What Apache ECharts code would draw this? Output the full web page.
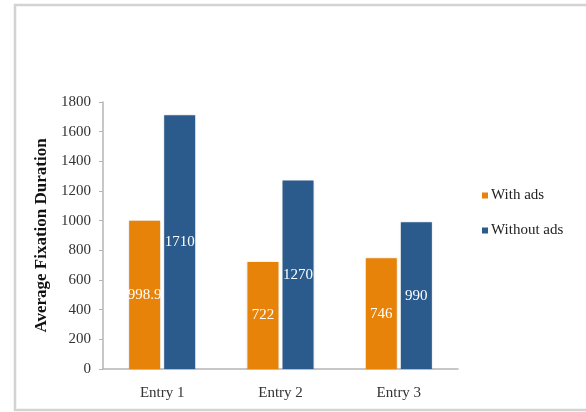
<!DOCTYPE html>
<html><head><meta charset="utf-8">
<script src="https://cdn.jsdelivr.net/npm/echarts@6/dist/echarts.min.js"></script>
<style>html,body{margin:0;padding:0;background:#fff}#c{width:586px;height:412px}</style>
</head><body><div id="c"></div>
<script>
const categories = ['Entry 1', 'Entry 2', 'Entry 3'];
const withAds = [998.9, 722, 746];
const withoutAds = [1710, 1270, 990];
const yTicks = [0, 200, 400, 600, 800, 1000, 1200, 1400, 1600, 1800];

const serif = '"Liberation Serif", "Times New Roman", serif';
const chart = echarts.init(document.getElementById('c'), null, {renderer: 'canvas'});
chart.setOption({
  animation: false,
  backgroundColor: '#fff',
  graphic: [{
    type: 'rect', shape: {x: 15, y: 5, width: 620, height: 405},
    style: {fill: 'none', stroke: '#d3d3d3', lineWidth: 2.5}, silent: true, z: -1
  }],
  grid: {left: 103, right: 128, top: 102, bottom: 43},
  legend: {
    orient: 'vertical', left: 477, top: 183, itemWidth: 6, itemHeight: 6, itemGap: 20,
    icon: 'rect',
    textStyle: {fontFamily: serif, fontSize: 15, color: '#222', padding: [0, 0, 0, -2]},
    data: ['With ads', 'Without ads']
  },
  xAxis: {
    type: 'category', data: categories,
    axisLine: {lineStyle: {color: '#b5b5b5', width: 1.5}},
    axisTick: {show: false},
    axisLabel: {fontFamily: serif, fontSize: 15, color: '#333', margin: 17}
  },
  yAxis: {
    type: 'value', min: yTicks[0], max: yTicks[yTicks.length - 1], interval: 200,
    name: 'Average Fixation Duration', nameLocation: 'middle', nameGap: 48,
    nameTextStyle: {fontFamily: serif, fontSize: 17, fontWeight: 'bold', color: '#111'},
    axisLine: {show: true, lineStyle: {color: '#b5b5b5', width: 1.5}},
    axisTick: {show: true, length: 4, lineStyle: {color: '#b5b5b5'}},
    splitLine: {show: false},
    axisLabel: {fontFamily: serif, fontSize: 15, color: '#333', margin: 12,
      formatter: v => String(v)}
  },
  series: [{
    name: 'With ads', type: 'bar', data: withAds, barWidth: 31, barGap: '13%',
    itemStyle: {color: '#E8830A', shadowColor: 'rgba(0,0,0,0.15)', shadowBlur: 2},
    label: {show: true, position: 'inside', color: '#fff', fontFamily: serif, fontSize: 15}
  }, {
    name: 'Without ads', type: 'bar', data: withoutAds, barWidth: 31,
    itemStyle: {color: '#2A5B8C', shadowColor: 'rgba(0,0,0,0.15)', shadowBlur: 2},
    label: {show: true, position: 'inside', color: '#fff', fontFamily: serif, fontSize: 15}
  }]
});
</script></body></html>
